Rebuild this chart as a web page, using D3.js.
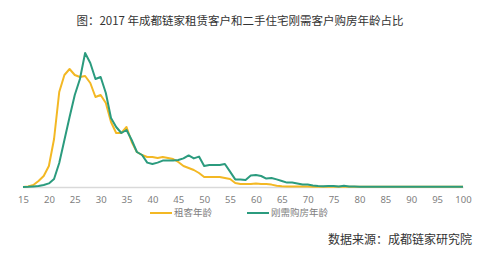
<!DOCTYPE html>
<html>
<head>
<meta charset="utf-8">
<script src="https://cdn.jsdelivr.net/npm/d3@7"></script>
<style>
  body { margin: 0; background: #fff; }
  svg { display: block; }
</style>
</head>
<body>
<svg id="chart"></svg>
<script>
// ages 15..100
var ages = d3.range(15, 101);
var xTicks = [15, 20, 25, 30, 35, 40, 45, 50, 55, 60, 65, 70, 75, 80, 85, 90, 95, 100];

// share (%) by age
var rentAge = [0, 0.03, 0.1, 0.3, 0.55, 1.05, 2.4, 4.75, 5.6, 5.9,
  5.6, 5.5, 5.55, 5.2, 4.5, 4.6, 4.2, 3.25, 2.7, 2.7,
  3.0, 2.25, 1.75, 1.6, 1.5, 1.5, 1.45, 1.5, 1.45, 1.4,
  1.25, 1.05, 0.95, 0.85, 0.7, 0.5, 0.5, 0.5, 0.5, 0.45,
  0.4, 0.2, 0.15, 0.15, 0.15, 0.18, 0.15, 0.15, 0.12, 0.06,
  0.04, 0.03, 0.03, 0.02, 0.02, 0.02, 0.01, 0.01, 0.01, 0.01,
  0.01, 0.01, 0.01, 0.01, 0.01, 0.01, 0.01, 0.01, 0.01, 0.01,
  0.01, 0.01, 0.01, 0.01, 0.01, 0.01, 0.01, 0.01, 0.01, 0.01,
  0.01, 0.01, 0.01, 0.01, 0.01, 0.01];
var buyAge = [0, 0.01, 0.03, 0.05, 0.1, 0.18, 0.4, 1.2, 2.35, 3.5,
  4.6, 5.4, 6.7, 6.2, 5.4, 5.5, 4.7, 3.45, 3.0, 2.7,
  2.85, 2.35, 1.75, 1.6, 1.22, 1.15, 1.22, 1.32, 1.32, 1.32,
  1.35, 1.43, 1.58, 1.43, 1.52, 1.05, 1.1, 1.1, 1.1, 1.15,
  0.77, 0.38, 0.38, 0.35, 0.57, 0.6, 0.55, 0.42, 0.45, 0.38,
  0.3, 0.22, 0.22, 0.18, 0.13, 0.12, 0.08, 0.05, 0.04, 0.05,
  0.05, 0.03, 0.06, 0.03, 0.02, 0.01, 0.01, 0.01, 0.01, 0.01,
  0.01, 0.01, 0.01, 0.01, 0.01, 0.01, 0.01, 0.01, 0.01, 0.01,
  0.01, 0.01, 0.01, 0.01, 0.01, 0.01];

var seriesNames = ["租客年龄", "刚需购房年龄"];
var colors = ["#f3b824", "#2b9b7e"];

var svgWidth = 500, svgHeight = 255;
var svg = d3.select("#chart")
    .attr("width", svgWidth)
    .attr("height", svgHeight);

var x = d3.scaleLinear().domain([15, 100]).range([23, 463]);
var y = d3.scaleLinear().domain([0, 7]).range([187, 47]);

// title
svg.append("text")
    .attr("x", 240)
    .attr("y", 25)
    .attr("text-anchor", "middle")
    .attr("font-family", "'Noto Sans CJK SC', sans-serif")
    .attr("font-size", "11.5px")
    .attr("fill", "#333")
    .text("图：2017 年成都链家租赁客户和二手住宅刚需客户购房年龄占比");

// x axis
var xAxis = svg.append("g")
    .attr("transform", "translate(0," + y(0) + ")")
    .call(d3.axisBottom(x).tickValues(xTicks).tickSize(0).tickPadding(9));
xAxis.select(".domain").attr("stroke", "#d9d9d9").attr("stroke-width", 1.5);
xAxis.selectAll("text")
    .attr("font-family", "'Noto Sans', sans-serif")
    .attr("font-size", "9.5px")
    .attr("fill", "#808080");

var line = d3.line()
    .x(function(d, i) { return x(ages[i]); })
    .y(function(d) { return y(d); });

[rentAge, buyAge].forEach(function(s, k) {
    svg.append("path")
        .datum(s)
        .attr("fill", "none")
        .attr("stroke", colors[k])
        .attr("stroke-width", 2)
        .attr("stroke-linejoin", "round")
        .attr("d", line);
});

// legend
var legendX = [150, 247];
seriesNames.forEach(function(name, k) {
    var g = svg.append("g").attr("transform", "translate(" + legendX[k] + ",213)");
    g.append("line")
        .attr("x1", 0).attr("x2", 22)
        .attr("stroke", colors[k])
        .attr("stroke-width", 2);
    g.append("text")
        .attr("x", 24)
        .attr("dy", "0.35em")
        .attr("font-family", "'Noto Sans CJK SC', sans-serif")
        .attr("font-size", "9.5px")
        .attr("fill", "#808080")
        .text(name);
});

// source
svg.append("text")
    .attr("x", 472)
    .attr("y", 244)
    .attr("text-anchor", "end")
    .attr("font-family", "'Noto Sans CJK SC', sans-serif")
    .attr("font-size", "12px")
    .attr("fill", "#333")
    .text("数据来源：成都链家研究院");
</script>
</body>
</html>
